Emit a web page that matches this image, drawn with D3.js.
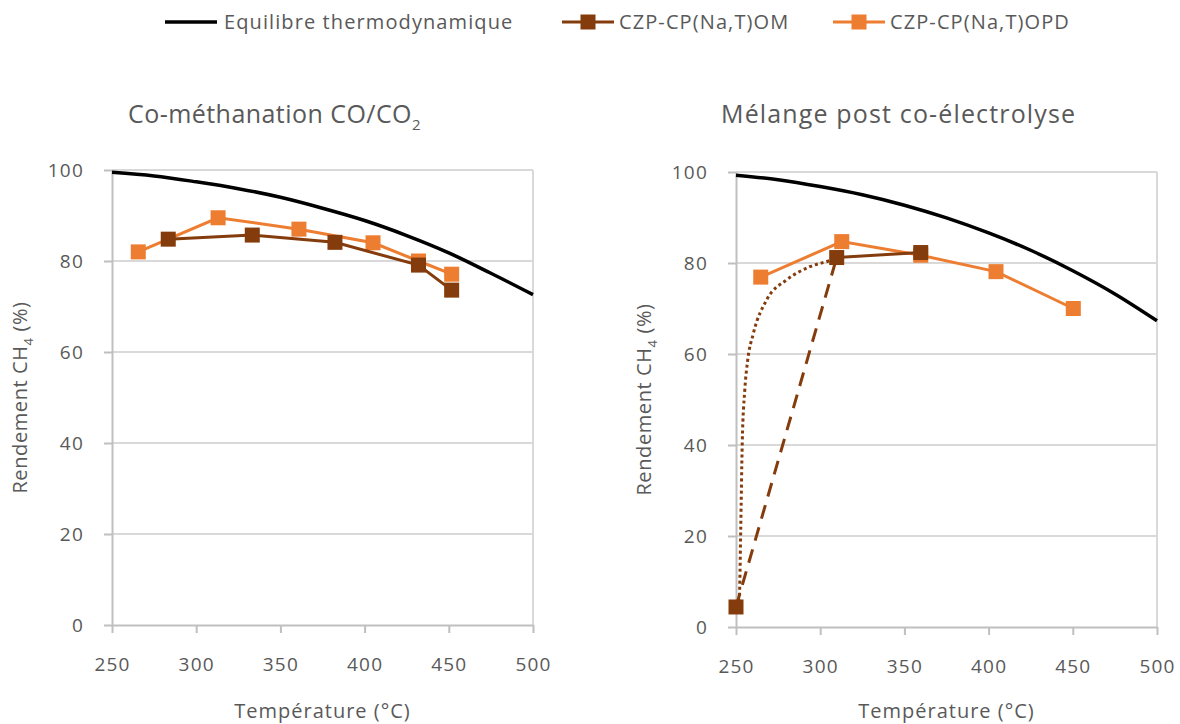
<!DOCTYPE html>
<html><head><meta charset="utf-8">
<script src="https://cdn.jsdelivr.net/npm/d3@7"></script>
<style>body{margin:0;background:#fff}svg{display:block}text{font-family:'Open Sans',sans-serif;fill:#595959}</style>
</head><body><svg id="c" width="1180" height="724"></svg>
<script>
// ---- data ----
const xTicks = [250, 300, 350, 400, 450, 500];
const yTicks = [0, 20, 40, 60, 80, 100];
const seriesNames = ["Equilibre thermodynamique", "CZP-CP(Na,T)OM", "CZP-CP(Na,T)OPD"];
const panelTitles = ["Co-méthanation CO/CO", "Mélange post co-électrolyse"];

// Left panel: Co-méthanation CO/CO2
const eqTempL = [250, 275, 300, 325, 350, 375, 400, 425, 450, 475, 500];
const eqValL  = [99.5, 98.7, 97.4, 95.9, 94.0, 91.6, 88.9, 85.6, 81.8, 77.3, 72.6];
const omTempL = [283.4, 333.3, 382.4, 432, 451.7];
const omValL  = [84.8, 85.7, 84.1, 79.1, 73.6];
const opdTempL = [265.6, 313, 361, 405, 432, 451.7];
const opdValL  = [82.0, 89.5, 87.0, 84.0, 80.0, 77.1];

// Right panel: Mélange post co-électrolyse
const eqTempR = [250, 275, 300, 325, 350, 375, 400, 425, 450, 475, 500];
const eqValR  = [99.3, 98.3, 96.8, 95.0, 92.7, 89.9, 86.6, 82.8, 78.3, 73.2, 67.3];
const omTempR = [250, 309.8, 359.7];
const omValR  = [4.4, 81.2, 82.3];
const opdTempR = [264.7, 312.8, 359.7, 404.4, 450.3];
const opdValR  = [76.9, 84.7, 81.7, 78.1, 70.0];
// trend lines (OM, right panel)
const dashTempR = [250, 309.8];
const dashValR  = [4.4, 81.2];
const dotTempR = [250, 252.0, 252.8, 253.7, 255.2, 256.9, 260.3, 268.2, 280.1, 293.9, 306.8, 309.8];
const dotValR  = [4.4, 6.7, 21.3, 40.4, 52.0, 58.5, 64.5, 71.9, 76.3, 79.2, 80.7, 81.2];

const C_EQ = "#000000", C_OM = "#843C0C", C_OPD = "#ED7D31";
const svg = d3.select("#c");

function zip(t, v){ return t.map((d,i)=>({t:d, v:v[i]})); }

function panel(cfg){
  const x = d3.scaleLinear().domain([250,500]).range(cfg.xr);
  const y = d3.scaleLinear().domain([0,100]).range(cfg.yr);
  const g = svg.append("g");
  // gridlines
  g.selectAll(".grid").data(yTicks.filter(d=>d>0)).join("line")
    .attr("x1", x(250)).attr("x2", x(500)).attr("y1", d=>y(d)).attr("y2", d=>y(d))
    .attr("stroke", "#d9d9d9").attr("stroke-width", 2);
  g.append("line").attr("x1", x(500)).attr("x2", x(500)).attr("y1", y(100)).attr("y2", y(0))
    .attr("stroke", "#d9d9d9").attr("stroke-width", 2);
  // axes
  const xa = g.append("g").attr("transform", `translate(0,${y(0)})`)
    .call(d3.axisBottom(x).tickValues(xTicks).tickSize(8).tickPadding(25).tickSizeOuter(0));
  const ya = g.append("g").attr("transform", `translate(${x(250)},0)`)
    .call(d3.axisLeft(y).tickValues(yTicks).tickSize(8).tickPadding(20).tickSizeOuter(0));
  [xa, ya].forEach(a=>{
    a.select(".domain").attr("stroke", "#bfbfbf").attr("stroke-width", 2);
    a.selectAll(".tick line").attr("stroke", "#bfbfbf").attr("stroke-width", 2);
    a.selectAll(".tick text").attr("font-size", 19).attr("letter-spacing", 1.2)
      .attr("fill", "#595959").attr("font-family", "'Open Sans',sans-serif");
  });
  const line = d3.line().x(d=>x(d.t)).y(d=>y(d.v));
  // trend lines
  if (cfg.dash) g.append("path").datum(cfg.dash).attr("d", line).attr("fill","none")
    .attr("stroke", C_OM).attr("stroke-width", 3).attr("stroke-dasharray", "14,9");
  if (cfg.dot) g.append("path").datum(cfg.dot).attr("d", d3.line().x(d=>x(d.t)).y(d=>y(d.v)).curve(d3.curveMonotoneX)).attr("fill","none")
    .attr("stroke", C_OM).attr("stroke-width", 3).attr("stroke-dasharray", "3,3");
  // equilibrium
  g.append("path").datum(cfg.eq).attr("d", d3.line().x(d=>x(d.t)).y(d=>y(d.v)).curve(d3.curveMonotoneX))
    .attr("fill","none").attr("stroke", C_EQ).attr("stroke-width", 3.5);
  // OPD
  g.append("path").datum(cfg.opd).attr("d", line).attr("fill","none").attr("stroke", C_OPD).attr("stroke-width", 3);
  g.selectAll(".mopd").data(cfg.opd).join("rect")
    .attr("x", d=>x(d.t)-7.5).attr("y", d=>y(d.v)-7.5).attr("width", 15).attr("height", 15).attr("fill", C_OPD);
  // OM
  g.append("path").datum(cfg.omLine).attr("d", line).attr("fill","none").attr("stroke", C_OM).attr("stroke-width", 3);
  g.selectAll(".mom").data(cfg.om).join("rect")
    .attr("x", d=>x(d.t)-7.5).attr("y", d=>y(d.v)-7.5).attr("width", 15).attr("height", 15).attr("fill", C_OM);
  // titles
  const tt = g.append("text").attr("x", cfg.titleX).attr("y", 123).attr("font-size", 25)
    .attr("letter-spacing", cfg.titleLS).text(cfg.title);
  if (cfg.sub) tt.append("tspan").attr("font-size", 15).attr("dy", 7).text(cfg.sub);
  // axis labels
  g.append("text").attr("x", (x(250)+x(500))/2).attr("y", 718).attr("text-anchor","middle")
    .attr("font-size", 20).attr("letter-spacing", 1).text("Température (°C)");
  const yl = g.append("text").attr("transform", `translate(${cfg.ylabX},${(y(0)+y(100))/2}) rotate(-90)`)
    .attr("text-anchor","middle").attr("font-size", 20).attr("letter-spacing", 0.6);
  yl.append("tspan").text("Rendement CH");
  yl.append("tspan").attr("font-size", 13).attr("dy", 6).text("4");
  yl.append("tspan").attr("dy", -6).text(" (%)");
}

panel({xr:[112,533], yr:[625,170], title:panelTitles[0], sub:"2", titleX:128, titleLS:0.45, ylabX:27,
  eq: zip(eqTempL, eqValL), om: zip(omTempL, omValL), omLine: zip(omTempL, omValL), opd: zip(opdTempL, opdValL)});
panel({xr:[736,1157], yr:[627,172], title:panelTitles[1], titleX:721, titleLS:1.15, ylabX:651,
  eq: zip(eqTempR, eqValR), om: zip(omTempR, omValR), omLine: zip(omTempR.slice(1), omValR.slice(1)),
  opd: zip(opdTempR, opdValR), dash: zip(dashTempR, dashValR), dot: zip(dotTempR, dotValR)});

// legend
const leg = svg.append("g");
const items = [
  {x:165, c:C_EQ, m:false, w:3.5, tx:224},
  {x:562, c:C_OM, m:true, w:3, tx:619},
  {x:833, c:C_OPD, m:true, w:3, tx:890}
];
items.forEach((it,i)=>{
  leg.append("line").attr("x1", it.x).attr("x2", it.x+52).attr("y1", 22).attr("y2", 22)
    .attr("stroke", it.c).attr("stroke-width", it.w);
  if (it.m) leg.append("rect").attr("x", it.x+26-7.5).attr("y", 22-7.5).attr("width", 15).attr("height", 15).attr("fill", it.c);
  leg.append("text").attr("x", it.tx).attr("y", 29).attr("font-size", 20).attr("letter-spacing", 1.1).text(seriesNames[i]);
});
</script></body></html>
